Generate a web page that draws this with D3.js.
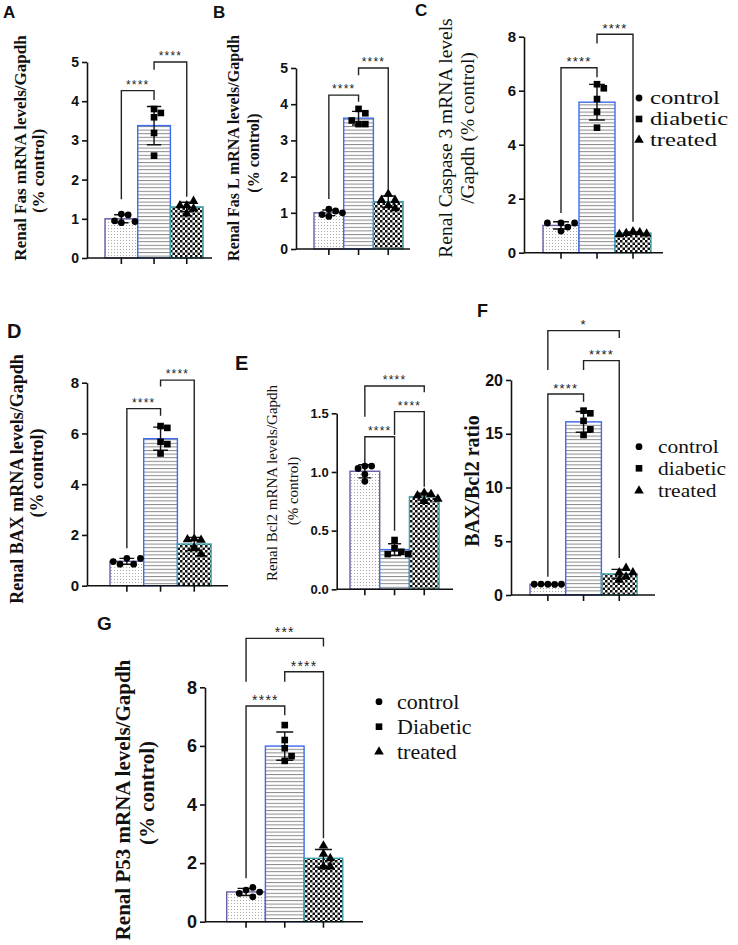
<!DOCTYPE html>
<html>
<head>
<meta charset="utf-8">
<script src="https://cdn.jsdelivr.net/npm/d3@7"></script>
<style>
    body { margin: 0; background: #fff; }
    svg { display: block; }
</style>
</head>
<body>
<svg id="chart" width="738" height="945"></svg>
<script>
const groups = ['control', 'diabetic', 'treated'];
const legendNames = ['control', 'diabetic', 'treated'];
const legendNamesG = ['control', 'Diabetic', 'treated'];

// five animals per group (control, diabetic, treated)
const fasData = [[1.12, 1.10, 0.90, 0.95, 0.93], [3.80, 3.70, 3.59, 3.19, 2.61], [1.34, 1.45, 1.34, 1.26, 1.13]];
const fasLData = [[1.10, 1.05, 0.90, 0.95, 1.00], [3.87, 3.75, 3.45, 3.45, 3.55], [1.52, 1.35, 1.35, 1.20, 1.12]];
const casp3Data = [[1.10, 1.10, 0.95, 1.10, 0.80], [6.24, 6.09, 5.69, 5.22, 4.63], [0.78, 0.75, 0.72, 0.70, 0.68]];
const baxData = [[1.08, 0.85, 1.08, 0.85, 0.95], [6.29, 6.22, 5.67, 5.58, 5.21], [1.85, 1.80, 1.82, 1.50, 1.25]];
const bcl2Data = [[1.05, 1.05, 1.03, 0.98, 0.92], [0.42, 0.35, 0.32, 0.30, 0.30], [0.82, 0.81, 0.80, 0.77, 0.75]];
const ratioData = [[1.00, 0.98, 1.02, 1.00, 1.00], [17.15, 16.90, 16.20, 14.88, 15.41], [2.10, 2.50, 1.70, 2.10, 1.40]];
const p53Data = [[1.08, 1.17, 0.85, 0.97, 1.01], [6.71, 6.20, 5.92, 5.49, 5.65], [2.59, 2.31, 2.16, 1.88, 1.88]];

// significance brackets: [group a, group b, top, left leg end, right leg end, stars] (data units)
const fasBrackets = [[0, 1, 4.27, 1.50, 4.03, '****'], [1, 2, 5.0, 4.8, 1.56, '****']];
const fasLBrackets = [[0, 1, 4.25, 1.38, 4.07, '****'], [1, 2, 5.0, 4.8, 1.63, '****']];
const casp3Brackets = [[0, 1, 6.85, 1.47, 6.5, '****'], [1, 2, 8.09, 7.75, 1.15, '****']];
const baxBrackets = [[0, 1, 6.98, 1.48, 6.7, '****'], [1, 2, 8.1, 7.85, 2.0, '****']];
const bcl2Brackets = [[0, 2, 1.733, 1.47, 1.68, '****'], [1, 2, 1.514, 1.315, 0.875, '****'], [0, 1, 1.30, 1.074, 0.5, '****']];
const ratioBrackets = [[0, 2, 24.59, 20.93, 23.9, '*'], [1, 2, 21.8, 20.93, 3.44, '****'], [0, 1, 18.7, 1.7, 17.98, '****']];
const p53Brackets = [[0, 2, 9.67, 8.19, 9.39, '***'], [1, 2, 8.53, 8.19, 2.85, '****'], [0, 1, 7.36, 1.48, 7.05, '****']];

const groupBorder = ['#6b5ca5', '#3d6cf0', '#3aa3ab'];
const groupFill = ['url(#dots)', 'url(#hlines)', 'url(#checks)'];
const groupSymbol = [d3.symbolCircle, d3.symbolSquare, d3.symbolTriangle];
const symbolArea = [36, 44, 40];

const SERIF = '"Liberation Serif", "Times New Roman", serif';
const SANS = '"Liberation Sans", Arial, sans-serif';

let svg = d3.select('#chart');

function addPatterns(svg) {
    let defs = svg.append('defs');
    let dots = defs.append('pattern').attr('id', 'dots').attr('patternUnits', 'userSpaceOnUse')
        .attr('width', 3).attr('height', 3);
    dots.append('rect').attr('width', 3).attr('height', 3).attr('fill', '#fff');
    dots.append('rect').attr('width', 1).attr('height', 1).attr('fill', '#aaa');

    let lines = defs.append('pattern').attr('id', 'hlines').attr('patternUnits', 'userSpaceOnUse')
        .attr('width', 4).attr('height', 3.6);
    lines.append('rect').attr('width', 4).attr('height', 3.6).attr('fill', '#fff');
    lines.append('rect').attr('width', 4).attr('height', 1).attr('fill', '#8a8a8a');

    let checks = defs.append('pattern').attr('id', 'checks').attr('patternUnits', 'userSpaceOnUse')
        .attr('width', 5).attr('height', 5);
    checks.append('rect').attr('width', 5).attr('height', 5).attr('fill', '#fff');
    checks.append('rect').attr('width', 2.5).attr('height', 2.5).attr('fill', '#111');
    checks.append('rect').attr('x', 2.5).attr('y', 2.5).attr('width', 2.5).attr('height', 2.5).attr('fill', '#111');
}

// spread points sideways when they would overlap (like a scatter dot plot)
function spread(vals, y, cx, d) {
    let placed = [];
    return vals.map(v => {
        let py = y(v);
        let px = cx;
        for (let k = 0; k < 20; k++) {
            px = cx + Math.ceil(k / 2) * d * (k % 2 ? 1 : -1);
            if (placed.every(q => Math.hypot(q[0] - px, q[1] - py) >= d)) break;
        }
        placed.push([px, py]);
        return [px, py];
    });
}

function drawPanel(svg, p) {
    let g = svg.append('g');
    let y = d3.scaleLinear().domain([0, p.max]).range([p.bottom, p.top]);
    let x = d3.scaleBand().domain(groups).range([p.barStart, p.barStart + 3 * p.barWidth]).padding(0);
    let bw = x.bandwidth();

    // bars
    groups.forEach((name, i) => {
        let mean = d3.mean(p.data[i]);
        g.append('rect')
            .attr('x', x(name)).attr('y', y(mean))
            .attr('width', bw).attr('height', y(0) - y(mean))
            .attr('fill', groupFill[i])
            .attr('stroke', groupBorder[i]).attr('stroke-width', 1.4);
    });

    // mean +/- SD
    groups.forEach((name, i) => {
        let mean = d3.mean(p.data[i]);
        let sd = d3.deviation(p.data[i]);
        let cx = x(name) + bw / 2;
        let cap = bw * 0.22;
        let path = `M${cx},${y(mean - sd)}V${y(mean + sd)}` +
            `M${cx - cap},${y(mean + sd)}H${cx + cap}M${cx - cap},${y(mean - sd)}H${cx + cap}`;
        g.append('path').attr('d', path).attr('stroke', '#111').attr('stroke-width', 1.4).attr('fill', 'none');
    });

    // individual values
    groups.forEach((name, i) => {
        let cx = x(name) + bw / 2;
        spread(p.data[i], y, cx, 6.8).forEach(pt => {
            g.append('path')
                .attr('d', d3.symbol().type(groupSymbol[i]).size(symbolArea[i])())
                .attr('transform', `translate(${pt[0]},${pt[1]})`)
                .attr('fill', '#000');
        });
    });

    // axes
    let fmt = d3.format(p.format || 'd');
    let yAxis = d3.axisLeft(y)
        .tickValues(d3.range(0, p.max + p.step / 2, p.step))
        .tickSize(5).tickSizeOuter(0).tickPadding(3)
        .tickFormat(fmt);
    let yg = g.append('g').attr('transform', `translate(${p.left},0)`).call(yAxis);
    yg.attr('font-family', SANS).attr('font-size', p.tickFont).attr('font-weight', 'bold');
    yg.selectAll('path, line').attr('stroke', '#111').attr('stroke-width', 1.6);
    yg.selectAll('text').attr('fill', '#111');

    let xAxis = d3.axisBottom(x).tickSize(6).tickSizeOuter(0).tickFormat('');
    let xg = g.append('g').attr('transform', `translate(0,${p.bottom})`).call(xAxis);
    xg.select('.domain').attr('d', `M${p.left},0H${p.axisEnd}`);
    xg.selectAll('path, line').attr('stroke', '#111').attr('stroke-width', 1.6);

    // significance brackets
    p.brackets.forEach(b => {
        let xa = x(groups[b[0]]) + bw / 2;
        let xb = x(groups[b[1]]) + bw / 2;
        let top = y(b[2]);
        g.append('path')
            .attr('d', `M${xa},${y(b[3])}V${top}H${xb}V${y(b[4])}`)
            .attr('fill', 'none').attr('stroke', '#222').attr('stroke-width', 1.4);
        g.append('text')
            .attr('x', (xa + xb) / 2).attr('y', top - 9 + 0.58 * p.starSize)
            .attr('text-anchor', 'middle')
            .attr('font-family', SANS).attr('font-size', p.starSize)
            .attr('letter-spacing', 1.2).attr('fill', '#222')
            .text(b[5]);
    });

    // y title, rotated
    p.titles.forEach((t, i) => {
        g.append('text')
            .attr('transform', `translate(${p.titleX[i]},${p.titleY[i]}) rotate(-90)`)
            .attr('text-anchor', 'middle').attr('dominant-baseline', 'central')
            .attr('font-family', SERIF).attr('font-size', p.titleSize)
            .attr('font-weight', p.bold ? 'bold' : 'normal')
            .attr('fill', '#111')
            .text(t);
    });

    // panel letter
    g.append('text').attr('x', p.lx).attr('y', p.ly)
        .attr('font-family', SANS).attr('font-weight', 'bold').attr('font-size', p.lsize)
        .attr('fill', '#111').text(p.letter);

    // legend
    if (p.legend) {
        p.legend.forEach((name, i) => {
            let ly = p.legendY[i];
            g.append('path')
                .attr('d', d3.symbol().type(groupSymbol[i]).size(symbolArea[i])())
                .attr('transform', `translate(${p.legendX},${ly})`)
                .attr('fill', '#000');
            g.append('text')
                .attr('transform', `translate(${p.legendTextX},${ly}) scale(${p.legendStretch || 1},1)`)
                .attr('dominant-baseline', 'central')
                .attr('font-family', SERIF).attr('font-size', p.legendFont)
                .attr('fill', '#111').text(name);
        });
    }
}

addPatterns(svg);

drawPanel(svg, {
    letter: 'A', lx: 3, ly: 18, lsize: 17, data: fasData, brackets: fasBrackets,
    left: 87, top: 62, bottom: 258, barStart: 105, barWidth: 32.7, axisEnd: 212,
    max: 5, step: 1, tickFont: 14, starSize: 12,
    titles: ['Renal Fas mRNA levels/Gapdh', '(% control)'], titleX: [20, 38], titleY: [148, 171],
    titleSize: 17, bold: true
});

drawPanel(svg, {
    letter: 'B', lx: 213, ly: 18, lsize: 17, data: fasLData, brackets: fasLBrackets,
    left: 296, top: 68, bottom: 249, barStart: 314, barWidth: 29.7, axisEnd: 410,
    max: 5, step: 1, tickFont: 14, starSize: 12,
    titles: ['Renal Fas L mRNA levels/Gapdh', '(% control)'], titleX: [233, 253], titleY: [148, 153],
    titleSize: 16, bold: true
});

drawPanel(svg, {
    letter: 'C', lx: 415, ly: 16, lsize: 17, data: casp3Data, brackets: casp3Brackets,
    left: 524, top: 36.7, bottom: 252.7, barStart: 543, barWidth: 36, axisEnd: 663,
    max: 8, step: 2, tickFont: 15, starSize: 13,
    titles: ['Renal Caspase 3 mRNA levels', '/Gapdh (% control)'], titleX: [445, 467], titleY: [138, 128],
    titleSize: 19.5, bold: false,
    legend: legendNames, legendX: 639, legendTextX: 650, legendY: [98, 119, 140],
    legendFont: 19, legendStretch: 1.3
});

drawPanel(svg, {
    letter: 'D', lx: 7, ly: 338, lsize: 20, data: baxData, brackets: baxBrackets,
    left: 87, top: 382.7, bottom: 585.7, barStart: 110, barWidth: 33.7, axisEnd: 228,
    max: 8, step: 2, tickFont: 15, starSize: 12,
    titles: ['Renal BAX mRNA levels/Gapdh', '(% control)'], titleX: [17, 37], titleY: [479, 473],
    titleSize: 18, bold: true
});

drawPanel(svg, {
    letter: 'E', lx: 235, ly: 370, lsize: 20, data: bcl2Data, brackets: bcl2Brackets,
    left: 336.7, top: 413.3, bottom: 589.3, barStart: 350, barWidth: 29.7, axisEnd: 453,
    max: 1.5, step: 0.5, format: '.1f', tickFont: 13, starSize: 12,
    titles: ['Renal Bcl2 mRNA levels/Gapdh', '(% control)'], titleX: [272, 293], titleY: [483, 491],
    titleSize: 15, bold: false
});

drawPanel(svg, {
    letter: 'F', lx: 477, ly: 317, lsize: 18, data: ratioData, brackets: ratioBrackets,
    left: 511, top: 380, bottom: 595, barStart: 530, barWidth: 35.7, axisEnd: 655,
    max: 20, step: 5, tickFont: 16, starSize: 13,
    titles: ['BAX/Bcl2 ratio'], titleX: [472], titleY: [481],
    titleSize: 20, bold: true,
    legend: legendNames, legendX: 639, legendTextX: 658, legendY: [446.7, 468.3, 490.7],
    legendFont: 19, legendStretch: 1.13
});

drawPanel(svg, {
    letter: 'G', lx: 97, ly: 630, lsize: 19, data: p53Data, brackets: p53Brackets,
    left: 205, top: 687.3, bottom: 921.7, barStart: 226.7, barWidth: 38.7, axisEnd: 363,
    max: 8, step: 2, tickFont: 18, starSize: 14,
    titles: ['Renal P53 mRNA levels/Gapdh', '(% control)'], titleX: [123, 147], titleY: [800, 793],
    titleSize: 21, bold: true,
    legend: legendNamesG, legendX: 379, legendTextX: 397, legendY: [701.7, 726.7, 751.7], legendFont: 22
});
</script>
</body>
</html>
